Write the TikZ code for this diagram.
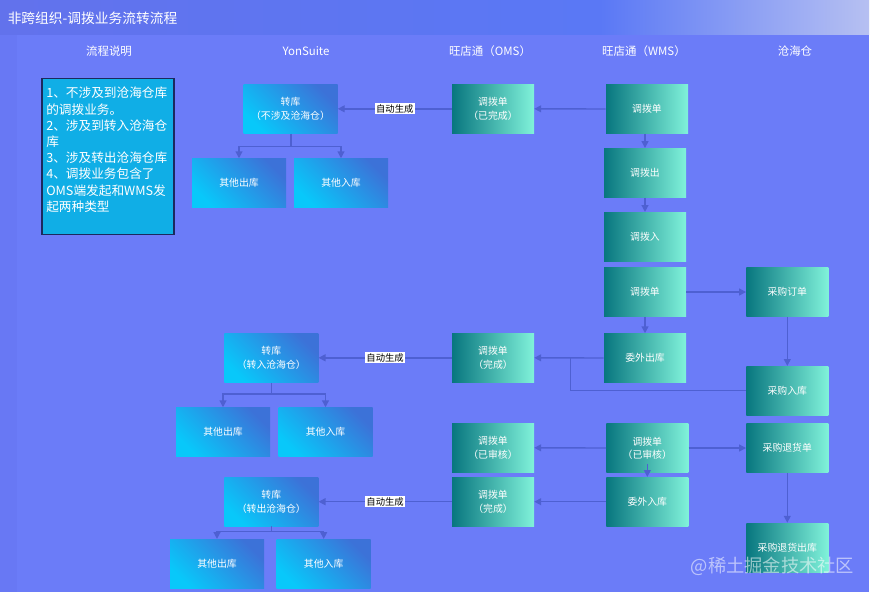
\documentclass[tikz,border=0pt]{standalone}
\usepackage{fontspec}
\setmainfont{Noto Sans CJK SC}
\usetikzlibrary{arrows.meta}
\definecolor{bg}{HTML}{6B7CF8}
\definecolor{strip}{HTML}{6878F4}
\definecolor{tbA}{HTML}{6272EC}
\definecolor{tbB}{HTML}{5A78F5}
\definecolor{tbC}{HTML}{B6C0F2}
\definecolor{gA}{HTML}{08767F}
\definecolor{gB}{HTML}{80F2DA}
\definecolor{bA}{HTML}{08C8FA}
\definecolor{bB}{HTML}{3C72D8}
\definecolor{lc}{HTML}{4E60D2}
\definecolor{descfill}{HTML}{10AEE6}
\definecolor{descline}{HTML}{1B2A5E}
\tikzset{
  gbox/.style={minimum width=61.5pt, minimum height=36.75pt, inner sep=0pt,
    left color=gA, right color=gB, text=white, align=center,
    font=\fontsize{7.4}{10}\selectfont},
  bbox/.style={minimum width=70.5pt, minimum height=36.75pt, inner sep=0pt,
    top color=bB, bottom color=bA, shading angle=-45, text=white, align=center,
    font=\fontsize{7.4}{10}\selectfont},
  hdr/.style={text=white, font=\fontsize{8.6}{10}\selectfont, inner sep=0pt},
  auto lbl/.style={fill=white, text=black, inner xsep=1pt, inner ysep=0.8pt,
    font=\fontsize{7}{8}\selectfont},
  ln/.style={draw=lc, line width=1.05pt},
  arr/.style={ln, -{Triangle[length=5.2pt,width=5.2pt]}}
}
\begin{document}
\begin{tikzpicture}[x=0.75pt,y=-0.75pt]
\useasboundingbox (0,0) rectangle (872,597);
\fill[white] (0,0) rectangle (872,597);
\fill[bg] (0,0) rectangle (869,592);
\fill[strip] (0,34) rectangle (17,592);
\shade[left color=tbA, right color=tbB] (0,0) rectangle (600,34);
\shade[left color=tbB, right color=tbC] (600,0) rectangle (869,34);
\node[anchor=west, text=white, font=\fontsize{10.3}{12}\selectfont, inner sep=0pt] (title) at (7.5,18) {非跨组织-调拨业务流转流程};

% headers
\node[hdr] (h1) at (109,51.5) {流程说明};
\node[hdr] (h2) at (306,51.5) {YonSuite};
\node[hdr] (h3) at (490,51.5) {旺店通（OMS）};
\node[hdr] (h4) at (644,51.5) {旺店通（WMS）};
\node[hdr] (h5) at (795,51.5) {沧海仓};

% description box
\node[draw=descline, line width=1.1pt, fill=descfill, minimum width=99pt, minimum height=117pt, inner sep=0pt] (desc) at (108,156.3) {};
\node[anchor=north west, align=left, text=white, inner sep=0pt, font=\fontsize{9.5}{12.15}\selectfont] (desctext) at (46,87) {1、不涉及到沧海仓库\\的调拨业务。\\2、涉及到转入沧海仓\\库\\3、涉及转出沧海仓库\\4、调拨业务包含了\\OMS端发起和WMS发\\起两种类型};

% YonSuite
\node[bbox] (Y1) at (290.5,108.8) {转库\\（不涉及沧海仓）};
\node[bbox] (Y1a) at (239,183) {其他出库};
\node[bbox] (Y1b) at (341,183) {其他入库};
\node[bbox] (Y2) at (271.3,357.8) {转库\\（转入沧海仓）};
\node[bbox] (Y2a) at (223,432) {其他出库};
\node[bbox] (Y2b) at (325.5,432) {其他入库};
\node[bbox] (Y3) at (271.3,501.7) {转库\\（转出沧海仓）};
\node[bbox] (Y3a) at (217,563.7) {其他出库};
\node[bbox] (Y3b) at (323.7,563.7) {其他入库};

% OMS
\node[gbox] (O1) at (493,108.8) {调拨单\\（已完成）};
\node[gbox] (O2) at (493,357.8) {调拨单\\（完成）};
\node[gbox] (O3) at (493,447.8) {调拨单\\（已审核）};
\node[gbox] (O4) at (493,501.7) {调拨单\\（完成）};

% WMS
\node[gbox] (W1) at (647,109) {调拨单};
\node[gbox] (W2) at (645,172.8) {调拨出};
\node[gbox] (W3) at (645,236.7) {调拨入};
\node[gbox] (W4) at (645,292) {调拨单};
\node[gbox] (W5) at (645,358) {委外出库};
\node[gbox] (W6) at (647.3,448) {调拨单\\（已审核）};
\node[gbox] (W7) at (647.3,501.7) {委外入库};

% Canghai
\node[gbox] (C1) at (787.3,292) {采购订单};
\node[gbox] (C2) at (787.3,390.7) {采购入库};
\node[gbox] (C3) at (787.3,448) {采购退货单};
\node[gbox] (C4) at (787.3,547.5) {采购退货出库};

% connectors
\draw[arr] (W1.west) -- (O1.east);
\draw[arr] (O1.west) -- node[auto lbl] (L1) {自动生成} (Y1.east);
\coordinate (s1) at (291,146.7);
\draw[ln] (Y1.south -| s1) -- (s1);
\draw[arr] (s1) -| (Y1a.north);
\draw[arr] (s1) -| (Y1b.north);

\draw[arr] (W1.south -| W2.north) -- (W2.north);
\draw[arr] (W2.south) -- (W3.north);

\draw[arr] (W4.south) -- (W5.north);
\draw[arr] (W4.east) -- (C1.west);
\draw[arr] (C1.south) -- (C2.north);
\draw[arr] (W5.west) -- (O2.east);
\coordinate (j1) at (570.7,358);
\draw[ln] (C2.west) -| (j1);
\draw[arr] (O2.west) -- node[auto lbl] (L2) {自动生成} (Y2.east);
\coordinate (s2) at (271.3,394);
\draw[ln] (Y2.south) -- (s2);
\draw[arr] (s2) -| (Y2a.north);
\draw[arr] (s2) -| (Y2b.north);

\draw[arr] (W6.west) -- (O3.east);
\draw[arr] (W6.east) -- (C3.west);
\draw[arr] (W6.south) ++(0,-9) -- (W7.north);
\draw[arr] (C3.south) -- (C4.north);
\draw[arr] (W7.west) -- (O4.east);
\draw[arr] (O4.west) -- node[auto lbl] (L3) {自动生成} (Y3.east);
\coordinate (s3) at (271.3,531.7);
\draw[ln] (Y3.south) -- (s3);
\draw[arr] (s3) -| (Y3a.north);
\draw[arr] (s3) -| (Y3b.north);

% watermark
\node[text=white, opacity=0.55, font=\fontsize{13.7}{15}\selectfont, inner sep=0pt] (wm) at (772.5,566.7) {@稀土掘金技术社区};
\end{tikzpicture}
\end{document}
